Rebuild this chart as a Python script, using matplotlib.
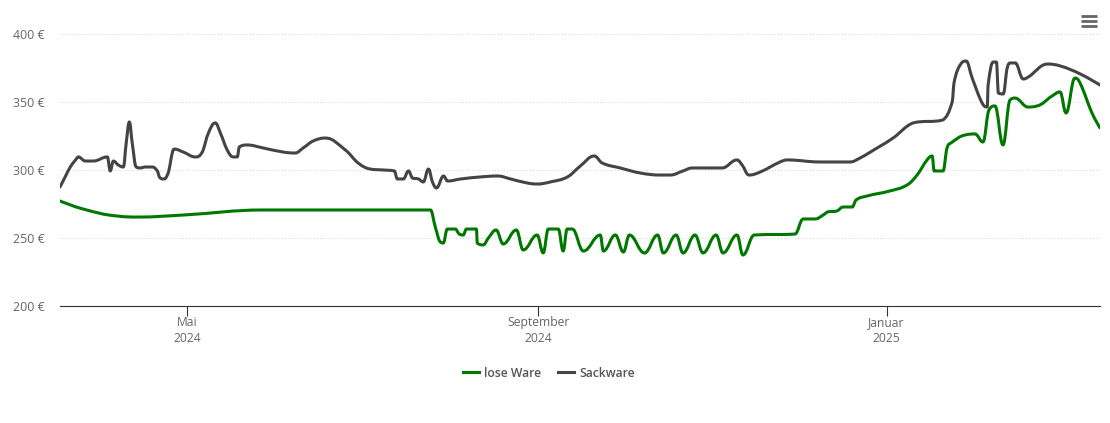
import matplotlib
matplotlib.use('Agg')
import matplotlib.pyplot as plt
from matplotlib.lines import Line2D
from matplotlib.patches import PathPatch
from matplotlib.path import Path

# Tage seit 1.5.2024 / Preis in Euro
sack_days = [-44.6, -42.8, -41.0, -38.9, -38.2, -35.7, -32.9, -28.0, -27.0, -25.9, -24.2, -22.4, -21.4, -20.3, -19.3,
             -17.9, -16.5, -14.7, -12.3, -10.5, -9.8, -8.4, -7.0, -4.6, -1.4, 2.8, 5.3, 7.4, 9.8, 11.6, 14.0, 16.1,
             17.5, 18.2, 21.0, 26.6, 33.6, 37.8, 40.6, 44.1, 48.4, 55.4, 59.9, 64.1, 68.7, 72.6, 73.6, 75.7,
             77.5, 78.9, 81.0, 82.7, 84.5, 85.9, 87.3, 89.8, 91.2, 95.8, 102.8, 108.7, 113.3, 119.2, 122.7, 127.2,
             133.2, 137.7, 142.6, 145.4, 151.7, 158.7, 165.7, 169.2, 173.7, 176.9, 187.4, 192.6, 194.4, 196.8, 200.7,
             207.7, 210.2, 221.7, 232.2, 235.7, 241.7, 247.3, 254.3, 264.8, 268.0, 268.7, 270.8, 272.9, 275.0, 278.5,
             280.3, 280.6, 282.4, 283.5, 284.2, 285.9, 287.3, 288.4, 290.1, 292.9, 294.7, 301.4, 305.9, 312.9, 319.8]
sack_price = [287.5, 294.9, 302.2, 308.1, 309.6, 306.6, 306.6, 309.6, 299.3, 306.6, 303.7, 302.2, 319.9, 335.3, 319.9,
              302.2, 301.5, 302.2, 302.2, 299.3, 294.9, 293.4, 296.3, 315.4, 313.2, 309.6, 313.4, 327.2, 334.6, 327.2,
              314.7, 309.6, 309.6, 316.9, 318.4, 316.2, 313.2, 312.5, 316.2, 321.3, 323.5, 314.7, 305.1, 300.7,
              300.0, 299.3, 293.4, 293.4, 299.3, 294.1, 293.4, 291.2, 300.7, 291.2, 286.8, 295.6, 291.9, 293.4, 294.9,
              295.6, 293.4, 290.4, 289.7, 291.2, 294.9, 302.9, 310.3, 305.1, 301.5, 297.8, 296.3, 296.3, 299.3, 301.5,
              301.5, 307.4, 303.7, 296.3, 298.5, 305.9, 307.4, 305.9, 305.9, 308.8, 316.2, 323.5, 334.6, 336.8, 350.0,
              364.7, 377.2, 380.1, 367.7, 349.3, 346.3, 362.5, 379.4, 379.4, 356.6, 355.9, 375.0, 378.7, 378.7, 366.9,
              368.4, 377.9, 376.5, 370.6, 362.5]

lose_days = [-44.6, -36.5, -24.6, -17.5, -1.4, 26.6, 85.2, 86.9, 88.7, 89.7, 91.1, 93.9, 95.3, 96.7, 97.8, 101.3, 101.6,
             103.7, 105.5, 108.2, 110.7, 115.3, 117.7, 122.6, 124.7, 126.5, 130.0, 131.7, 133.1, 134.9, 138.8, 144.7,
             145.8, 150.0, 152.8, 154.9, 160.2, 164.8, 166.8, 171.3, 173.7, 177.9, 180.7, 185.3, 187.7, 192.6, 194.7,
             198.6, 213.0, 215.8, 220.0, 222.8, 224.2, 227.7, 229.8, 233.0, 234.3, 238.2, 246.2, 252.2, 255.7, 259.2,
             261.0, 261.7, 264.8, 266.2, 267.6, 272.5, 276.0, 278.8, 280.9, 283.0, 285.8, 288.3, 290.0, 294.6, 297.7,
             303.0, 305.8, 307.9, 311.0, 312.8, 317.0, 319.8]
lose_price = [277.2, 271.3, 266.2, 265.4, 266.9, 270.6, 270.6, 258.1, 247.1, 246.3, 256.6, 256.6, 252.9, 252.2, 256.6,
              256.6, 246.3, 244.9, 250.0, 255.9, 245.6, 255.9, 241.2, 252.2, 239.0, 256.6, 256.6, 240.4, 256.6, 256.6,
              240.4, 252.2, 240.4, 252.2, 239.7, 252.2, 239.0, 252.2, 239.0, 252.2, 239.0, 252.2, 239.0, 252.2, 239.0,
              252.2, 237.5, 252.2, 252.9, 264.0, 264.0, 266.9, 269.1, 269.9, 272.8, 272.8, 277.9, 280.9, 284.6, 289.0,
              296.3, 307.4, 310.3, 299.3, 299.3, 316.2, 319.9, 325.7, 326.5, 320.6, 344.1, 347.1, 318.4, 351.5, 352.9,
              346.3, 347.1, 354.4, 357.4, 341.9, 367.6, 364.0, 341.9, 330.9]

month_days = [0, 123, 245]
month_labels = ['Mai\n2024', 'September\n2024', 'Januar\n2025']
y_ticks = [200, 250, 300, 350, 400]

GREEN = '#007700'
GREY = '#444444'
W, H = 1110, 423


# Kurve wie bei einem Spline-Chart: Bezier durch die Punkte, ohne Ueberschwingen
def spline_path(xs, ys, smooth=1.5):
    verts = [(xs[0], ys[0])]
    codes = [Path.MOVETO]
    right = (xs[0], ys[0])
    for i in range(1, len(xs)):
        x, y = xs[i], ys[i]
        px, py = xs[i - 1], ys[i - 1]
        if i == len(xs) - 1:
            lx, ly = x, y
            rx, ry = x, y
        else:
            nx, ny = xs[i + 1], ys[i + 1]
            lx = (smooth * x + px) / (smooth + 1)
            ly = (smooth * y + py) / (smooth + 1)
            rx = (smooth * x + nx) / (smooth + 1)
            ry = (smooth * y + ny) / (smooth + 1)
            corr = (ry - ly) * (rx - x) / (rx - lx) + y - ry
            ly += corr
            ry += corr
            if ly > py and ly > y:
                ly = max(py, y)
                ry = 2 * y - ly
            elif ly < py and ly < y:
                ly = min(py, y)
                ry = 2 * y - ly
            if ry > ny and ry > y:
                ry = max(ny, y)
                ly = 2 * y - ry
            elif ry < ny and ry < y:
                ry = min(ny, y)
                ly = 2 * y - ry
        verts += [right, (lx, ly), (x, y)]
        codes += [Path.CURVE4, Path.CURVE4, Path.CURVE4]
        right = (rx, ry)
    return Path(verts, codes)


plt.rcParams['font.family'] = ['Open Sans', 'DejaVu Sans']
fig = plt.figure(figsize=(W / 100, H / 100), dpi=100)
ax = fig.add_axes([60 / W, (H - 306) / H, 1040 / W, 272 / H])

for days, price, col in [(lose_days, lose_price, GREEN), (sack_days, sack_price, GREY)]:
    ax.add_patch(PathPatch(spline_path(days, price), fill=False, edgecolor=col, lw=2.2,
                           capstyle='round', joinstyle='round', zorder=3))

ax.set_xlim(-44.6, 319.8)
ax.set_ylim(200, 400)
ax.set_yticks(y_ticks)
ax.set_yticklabels([f'{v} €' for v in y_ticks], color='#666666', fontsize=8.9)
ax.set_xticks(month_days)
ax.set_xticklabels(month_labels, color='#666666', fontsize=8.7, linespacing=1.24)
ax.tick_params(axis='y', length=0, pad=11)
ax.tick_params(axis='x', length=7, width=0.8, color='#333333', pad=0.5)
ax.grid(axis='y', color='#d4d4d4', lw=0.7, ls=(0, (1, 2)))
ax.set_axisbelow(True)
for s in ['top', 'left', 'right']:
    ax.spines[s].set_visible(False)
ax.spines['bottom'].set_color('#333333')
ax.spines['bottom'].set_linewidth(0.8)

handles = [Line2D([], [], color=GREEN, lw=2.2), Line2D([], [], color=GREY, lw=2.2)]
fig.legend(handles, ['lose Ware', 'Sackware'], loc='center', bbox_to_anchor=(549 / W, (H - 373) / H), ncol=2,
           frameon=False, handlelength=1.3, handletextpad=0.45, columnspacing=1.35,
           prop={'size': 8.7, 'weight': 'semibold'}, labelcolor='#555555')

# Menue-Symbol oben rechts
for yy in [16, 21.5, 26.5]:
    fig.add_artist(Line2D([1081 / W, 1097 / W], [(H - yy) / H] * 2, color='#666666', lw=2.0,
                          solid_capstyle='butt'))

fig.savefig('out.png', dpi=100)
